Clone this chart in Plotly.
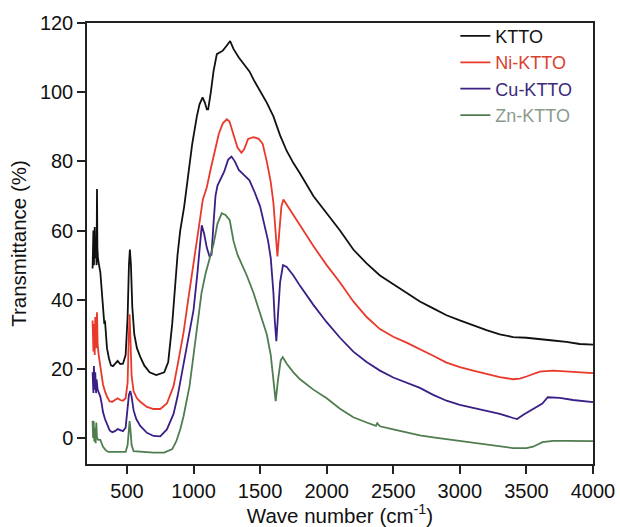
import plotly.graph_objects as go

# ---------------- data ----------------
ktto_x = [242, 248, 252, 258, 262, 268, 272, 275, 278, 282, 288, 295, 300, 310, 320, 330, 335, 340, 350, 365,
          380, 395, 410, 430, 450, 470, 490, 505, 515, 522, 530, 540, 555, 575, 600, 630, 670, 720, 780, 810,
          840, 860, 880, 900, 930, 960, 990, 1025, 1045, 1068, 1085, 1100, 1110, 1130, 1150, 1175, 1220, 1250,
          1275, 1300, 1340, 1380, 1420, 1460, 1500, 1550, 1600, 1650, 1700, 1750, 1800, 1900, 2000, 2100, 2200,
          2300, 2400, 2500, 2600, 2700, 2800, 2900, 3000, 3100, 3200, 3300, 3400, 3500, 3600, 3700, 3800, 3900, 4000]
ktto_y = [49, 60, 50, 61, 52, 55, 50, 72, 55, 52, 50, 49, 48, 42, 36, 33, 34, 30, 26, 23,
          21, 20.8, 21.5, 22.3, 21.4, 21.5, 24, 35, 50, 54.5, 50, 38, 30, 26, 23.5, 21, 19, 18.2, 19, 22,
          33, 44, 53, 60, 67, 76, 85, 93, 96.5, 98.5, 97, 95, 95, 100, 106, 111, 112, 113.5,
          114.8, 112.5, 110, 108, 106, 103, 100.5, 97, 93, 87.5, 83, 79.5, 76.5, 70, 65, 60, 54.5,
          50.5, 47, 44.5, 42, 39.5, 37.5, 35.5, 34, 32.5, 31.2, 30, 29.2, 29, 28.5, 28.2, 27.8, 27.2, 27]

ni_x = [242, 248, 252, 258, 262, 268, 275, 280, 288, 295, 300, 310, 320, 335, 350, 370, 390, 410, 430, 450,
        470, 490, 505, 513, 520, 527, 535, 550, 575, 600, 650, 700, 750, 800, 850, 880, 925, 960, 1000, 1040,
        1070, 1100, 1130, 1160, 1190, 1220, 1250, 1270, 1300, 1330, 1360, 1380, 1410, 1450, 1490, 1520, 1550,
        1580, 1600, 1615, 1630, 1645, 1660, 1675, 1700, 1750, 1800, 1900, 2000, 2100, 2200, 2300, 2400, 2500,
        2600, 2700, 2800, 2900, 3000, 3100, 3200, 3300, 3400, 3450, 3500, 3600, 3700, 3800, 3900, 4000]
ni_y = [34, 25, 33, 24, 35, 26, 36.4, 27, 24, 22, 21, 18, 15.5, 13.5, 12, 10.6, 10.5, 11, 11.5, 11,
        10.8, 11.5, 16, 28, 35.8, 28, 18, 13.5, 11.5, 10.5, 9, 8.4, 8.4, 10, 15, 21, 30.5, 40, 50, 61,
        69, 72.5, 78, 83, 88, 91, 92.2, 91.5, 88, 84, 82.5, 83.5, 86.5, 87, 86.5, 85, 80,
        74, 68, 60, 52.5, 60, 67, 69, 67.5, 64.5, 61.5, 55.5, 50, 45, 39.5, 35, 31.5, 29.3,
        27.6, 25.8, 23.8, 21.8, 20.5, 19.5, 18.5, 17.6, 17, 17.2, 17.8, 19.2, 19.5, 19.2, 19, 18.8]

cu_x = [242, 248, 252, 258, 262, 268, 272, 280, 290, 300, 310, 320, 335, 350, 370, 390, 410, 430, 450, 470,
        490, 505, 515, 525, 535, 550, 570, 600, 650, 700, 750, 800, 850, 880, 925, 960, 1000, 1030, 1050,
        1062, 1080, 1100, 1120, 1135, 1150, 1165, 1180, 1200, 1230, 1260, 1285, 1310, 1340, 1380, 1420, 1460,
        1500, 1530, 1560, 1580, 1600, 1610, 1622, 1635, 1650, 1672, 1700, 1750, 1800, 1900, 2000, 2100, 2200,
        2300, 2400, 2500, 2600, 2700, 2800, 2900, 3000, 3100, 3200, 3300, 3400, 3430, 3480, 3550, 3620, 3660,
        3750, 3850, 3950, 4000]
cu_y = [19, 13, 20.8, 14, 19, 13, 17, 14, 13, 12, 10, 7.5, 5.5, 4, 2.2, 1.7, 2, 2.6, 2.2, 2,
        3, 8, 12.5, 13.6, 12, 8, 5.5, 3.5, 1.5, 0.6, 0.5, 2.5, 7, 12, 21, 29, 37, 48, 57,
        61.5, 59, 55, 52.5, 53, 62, 70, 73, 74.5, 77, 80.5, 81.4, 80, 77.5, 76, 74.5, 71,
        67, 62, 57, 52, 42, 34, 28, 36, 45, 50, 49.5, 47, 44, 38.5, 33.5, 29, 25,
        22, 19.5, 17.5, 16, 14.5, 12.5, 10.8, 9.6, 8.8, 8, 7, 5.8, 5.5, 6.8, 8.5, 10, 11.8,
        11.6, 11, 10.6, 10.4]

zn_x = [242, 246, 250, 255, 260, 265, 270, 275, 285, 300, 320, 340, 360, 400, 450, 490, 505, 515, 520, 525,
        535, 550, 600, 700, 780, 840, 870, 900, 925, 950, 970, 1000, 1030, 1060, 1090, 1120, 1150, 1180, 1212,
        1240, 1272, 1300, 1330, 1400, 1450, 1500, 1550, 1580, 1600, 1617, 1635, 1655, 1670, 1700, 1750, 1800,
        1900, 2000, 2100, 2200, 2300, 2370, 2380, 2400, 2500, 2600, 2700, 2800, 2900, 3000, 3100, 3200, 3300,
        3400, 3500, 3550, 3620, 3700, 3800, 3900, 4000]
zn_y = [5, 0, 4.9, -1, 3, -1.5, 4.5, 0, -0.5, -0.5, -2.5, -3.5, -4, -4, -4, -4, -2, 3, 4.9, 3,
        -2, -3.8, -4, -4.2, -4.2, -3.2, -1, 2.5, 6.3, 11, 15, 24, 33, 42, 47.5, 51.7, 56, 62, 65,
        64.5, 63, 57, 53, 47, 42, 36, 30, 24, 17, 10.7, 17, 22.5, 23.4, 21.5, 19, 17,
        14, 11.5, 8.5, 6, 4.5, 3.5, 4.3, 3.4, 2.5, 1.6, 0.8, 0.2, -0.3, -0.8, -1.3, -1.8, -2.4,
        -2.9, -2.9, -2.5, -1.2, -0.8, -0.8, -0.9, -0.9]

series_names = ["KTTO", "Ni-KTTO", "Cu-KTTO", "Zn-KTTO"]
line_colors = ["#111111", "#e8392b", "#3b1f86", "#4f7d50"]
label_colors = ["#111111", "#d9412f", "#3b2a78", "#8c9a8c"]
xs = [ktto_x, ni_x, cu_x, zn_x]
ys = [ktto_y, ni_y, cu_y, zn_y]

x_ticks = [500, 1000, 1500, 2000, 2500, 3000, 3500, 4000]
y_ticks = [0, 20, 40, 60, 80, 100, 120]

FONT = "Arial, 'Liberation Sans', sans-serif"

fig = go.Figure()
for name, lc, tc, x, y in zip(series_names, line_colors, label_colors, xs, ys):
    fig.add_trace(go.Scatter(
        x=x, y=y, mode="lines",
        name=f"<span style='color:{tc}'>{name}</span>",
        line=dict(color=lc, width=1.8),
    ))

axis_common = dict(
    showline=True, linecolor="#222222", linewidth=1.5, mirror=True,
    ticks="outside", ticklen=8, tickwidth=1.5, tickcolor="#222222",
    showgrid=False, zeroline=False, automargin=False,
    tickfont=dict(family=FONT, size=20, color="#111111"),
    title_font=dict(family=FONT, size=20.5, color="#111111"),
)

fig.update_layout(
    width=620, height=527,
    margin=dict(l=87, r=27, t=23, b=63),
    paper_bgcolor="white", plot_bgcolor="white",
    font=dict(family=FONT, size=20, color="#111111"),
    showlegend=True,
    legend=dict(
        x=0.728, y=1.012, xanchor="left", yanchor="top",
        bgcolor="rgba(0,0,0,0)", borderwidth=0,
        font=dict(family=FONT, size=18),
        tracegroupgap=0, itemwidth=30,
    ),
    xaxis=dict(range=[200, 4000], tickvals=x_ticks,
               title=dict(text="Wave number (cm<sup>-1</sup>)", standoff=8), **axis_common),
    yaxis=dict(range=[-7.5, 120], tickvals=y_ticks,
               title=dict(text="Transmittance (%)", standoff=8), **axis_common),
)

fig.write_html("out.html")
